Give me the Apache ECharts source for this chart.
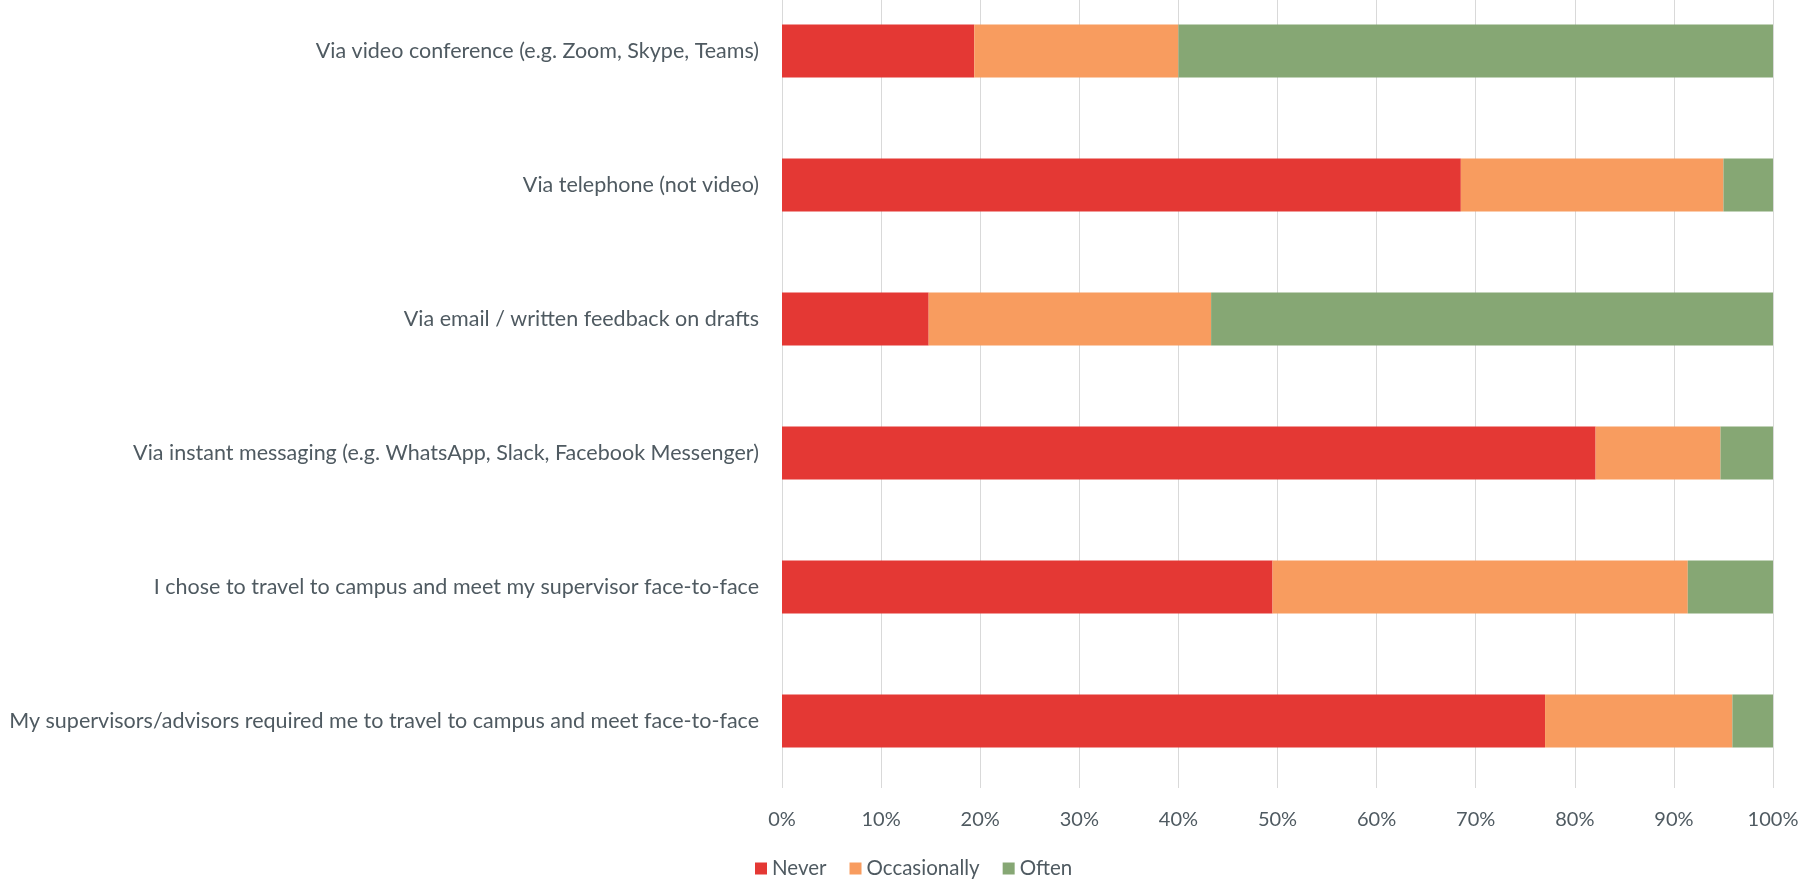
<!DOCTYPE html>
<html>
<head>
<meta charset="utf-8">
<script src="https://cdn.jsdelivr.net/npm/echarts@6/dist/echarts.min.js"></script>
<style>
  html, body { margin: 0; padding: 0; background: #ffffff; overflow: hidden; }
  /* plot area runs a little past the top edge of the page */
  #chart { width: 1807px; height: 897px; margin-top: -16px; }
</style>
</head>
<body>
<div id="chart"></div>
<script>
// Ways of meeting supervisors, share of respondents per frequency (%)
const categories = [
  'Via video conference (e.g. Zoom, Skype, Teams)',
  'Via telephone (not video)',
  'Via email / written feedback on drafts',
  'Via instant messaging (e.g. WhatsApp, Slack, Facebook Messenger)',
  'I chose to travel to campus and meet my supervisor face-to-face',
  'My supervisors/advisors required me to travel to campus and meet face-to-face'
];
const never        = [19.4, 68.5, 14.8, 82.1, 49.5, 77.0];
const occasionally = [20.6, 26.5, 28.5, 12.6, 41.9, 18.9];
const often        = [60.0,  5.0, 56.7,  5.3,  8.6,  4.1];
const seriesNames  = ['Never', 'Occasionally', 'Often'];
const xTicks       = [0, 10, 20, 30, 40, 50, 60, 70, 80, 90, 100];

const colors = ['#e43834', '#f89c5f', '#86a774'];
const textColor = '#4f5a61';
const fontFamily = 'Lato, "Open Sans", sans-serif';

const chart = echarts.init(document.getElementById('chart'), null, { renderer: 'canvas' });

const values = [never, occasionally, often];
const series = seriesNames.map((name, i) => ({
  name,
  type: 'bar',
  stack: 'total',
  barWidth: 53,
  data: values[i],
  itemStyle: { color: colors[i] },
  emphasis: { disabled: true }
}));

chart.setOption({
  animation: false,
  color: colors,
  grid: { left: 782, right: 34, top: 0, bottom: 93, containLabel: false },
  legend: {
    data: seriesNames,
    left: 750,
    top: 869,
    icon: 'rect',
    itemWidth: 12,
    itemHeight: 12,
    itemGap: 23,
    textStyle: { color: textColor, fontSize: 20.5, fontFamily }
  },
  xAxis: {
    type: 'value',
    min: xTicks[0],
    max: xTicks[xTicks.length - 1],
    interval: 10,
    axisLine: { show: false },
    axisTick: { show: false },
    splitLine: { show: true, lineStyle: { color: '#d9d9d9', width: 1 } },
    axisLabel: {
      margin: 22,
      color: textColor,
      fontSize: 20,
      fontFamily,
      formatter: v => v + '%'
    }
  },
  yAxis: {
    type: 'category',
    inverse: true,
    data: categories,
    axisLine: { show: false },
    axisTick: { show: false },
    axisLabel: {
      margin: 23,
      color: textColor,
      fontSize: 21.5,
      fontFamily
    }
  },
  series
});
</script>
</body>
</html>
